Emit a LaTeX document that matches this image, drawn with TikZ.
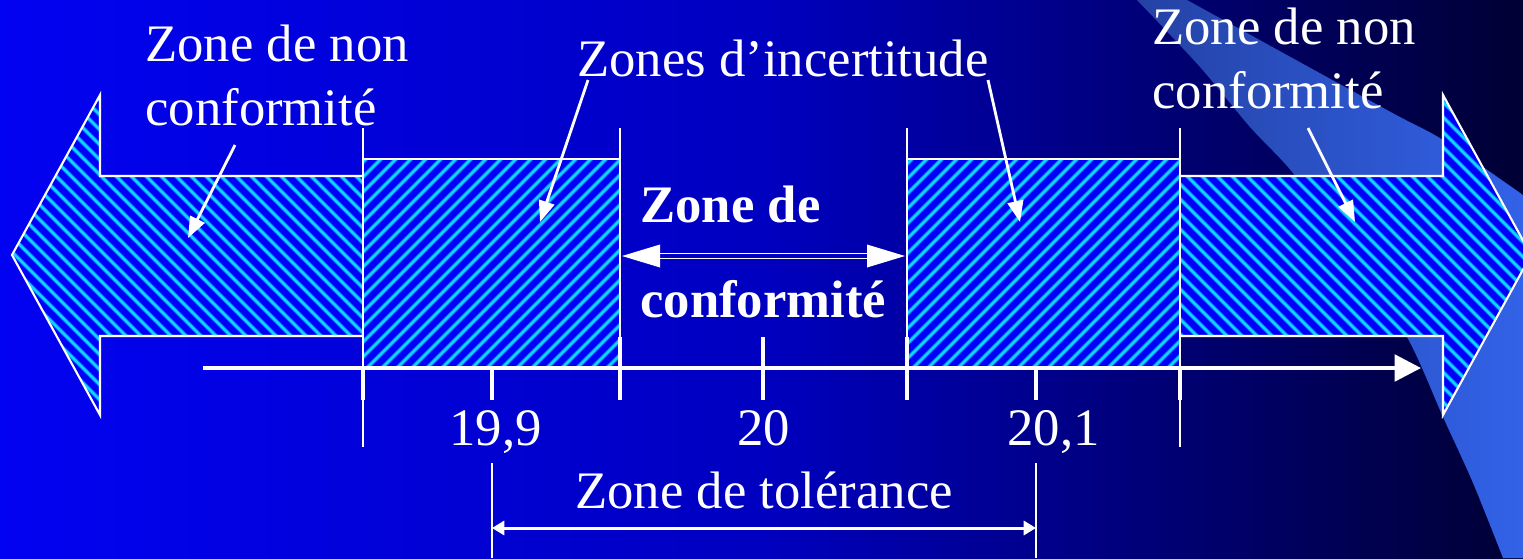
\documentclass[tikz,border=0pt]{standalone}
\usepackage{fontspec}
\setmainfont{Liberation Serif}
\usetikzlibrary{arrows.meta}
\definecolor{bgL}{RGB}{2,2,242}
\definecolor{bgM}{RGB}{0,0,192}
\definecolor{bgN}{RGB}{0,0,112}
\definecolor{bgR}{RGB}{0,0,52}
\definecolor{hatchbase}{RGB}{0,0,250}
\definecolor{hatchline}{RGB}{20,210,255}
\definecolor{hatchsoft}{RGB}{0,130,255}
\definecolor{swooshL}{RGB}{36,66,165}
\definecolor{swooshR}{RGB}{50,98,232}
\pgfdeclarehorizontalshading{bgshade}{100bp}{color(0bp)=(bgL); color(25bp)=(bgL); color(50bp)=(bgM); color(64bp)=(bgN); color(75bp)=(bgR); color(100bp)=(bgR)}
\tikzset{
  lbl/.style={text=white, inner sep=0pt, font=\fontsize{30}{36}\selectfont, align=left},
  blbl/.style={lbl, font=\fontsize{30}{36}\selectfont\bfseries},
  outline/.style={draw=white, line width=1.2pt, line join=miter},
  softstripe/.style={draw=hatchsoft, line width=2.3pt},
  corestripe/.style={draw=hatchline, line width=1.3pt},
  thinline/.style={draw=white, line width=1.15pt},
  tickmark/.style={draw=white, line width=2.8pt},
  axisline/.style={draw=white, line width=2.4pt},
  pointer/.style={draw=white, line width=1.6pt, -{Triangle[length=12pt,width=9pt]}},
  tolarrow/.style={draw=white, line width=1.7pt, {Triangle[length=7pt,width=8pt]}-{Triangle[length=7pt,width=8pt]}},
  dblshaft/.style={draw=white, line width=0.85pt, double=bgM, double distance=2pt},
}
\begin{document}
\begin{tikzpicture}[x=0.02cm, y=-0.02cm]
\useasboundingbox (0,0) rectangle (1523,558);
\clip (0,0) rectangle (1523,558);
% background
\shade[shading=bgshade] (0,0) rectangle (1523,558);
% swoosh band
\shade[left color=swooshL, right color=swooshR]
  plot[smooth] coordinates {(1137,0) (1200,67) (1250,127) (1293,173) (1350,250) (1407,337) (1443,417) (1473,483) (1503,558)}
  -- (1523,558) -- (1523,195)
  -- plot[smooth] coordinates {(1523,195) (1443,140) (1387,110) (1187,0)} -- cycle;
% left arrow (non conformity)
\begin{scope}
  \clip (363,176) -- (100,176) -- (100,95) -- (12,255) -- (100,415) -- (100,336) -- (363,336) -- cycle;
  \fill[hatchbase] (0,80) rectangle (370,430);
  \foreach \c in {-435,-420,...,290} {
    \draw[softstripe] (\c+80,80) -- (\c+430,430);
    \draw[corestripe] (\c+80,80) -- (\c+430,430);
  }
\end{scope}
% right arrow (non conformity)
\begin{scope}
  \clip (1180,176) -- (1443,176) -- (1443,95) -- (1531,255) -- (1443,415) -- (1443,336) -- (1180,336) -- cycle;
  \fill[hatchbase] (1170,80) rectangle (1540,430);
  \foreach \c in {756,771,...,1450} {
    \draw[softstripe] (\c+80,80) -- (\c+430,430);
    \draw[corestripe] (\c+80,80) -- (\c+430,430);
  }
\end{scope}
% left uncertainty rectangle
\begin{scope}
  \clip (363,159) rectangle (620,368);
  \fill[hatchbase] (360,150) rectangle (625,375);
  \foreach \c in {510,525,...,1000} {
    \draw[softstripe] (\c-150,150) -- (\c-380,380);
    \draw[corestripe] (\c-150,150) -- (\c-380,380);
  }
\end{scope}
% right uncertainty rectangle
\begin{scope}
  \clip (907,159) rectangle (1180,368);
  \fill[hatchbase] (900,150) rectangle (1185,375);
  \foreach \c in {1056,1071,...,1560} {
    \draw[softstripe] (\c-150,150) -- (\c-380,380);
    \draw[corestripe] (\c-150,150) -- (\c-380,380);
  }
\end{scope}
% outlines
\draw[outline] (363,176) -- (100,176) -- (100,95) -- (12,255) -- (100,415) -- (100,336) -- (363,336);
\draw[outline] (1180,176) -- (1443,176) -- (1443,95) -- (1531,255) -- (1443,415) -- (1443,336) -- (1180,336);
\draw[outline] (363,368) -- (363,159) -- (620,159) -- (620,368);
\draw[outline] (907,368) -- (907,159) -- (1180,159) -- (1180,368);
% limit lines
\coordinate (l1top) at (363,128); \coordinate (l1bot) at (363,447);
\coordinate (l2top) at (620,128); \coordinate (l2bot) at (620,337);
\coordinate (l3top) at (907,128); \coordinate (l3bot) at (907,337);
\coordinate (l4top) at (1180,128); \coordinate (l4bot) at (1180,447);
\draw[thinline] (l1top) -- (l1bot);
\draw[thinline] (l2top) -- (l2bot);
\draw[thinline] (l3top) -- (l3bot);
\draw[thinline] (l4top) -- (l4bot);
% axis
\coordinate (ax0) at (203,368);
\coordinate (ax1) at (1421,368);
\draw[axisline, -{Triangle[length=15pt,width=15pt]}] (ax0) -- (ax1);
% ticks
\foreach \x in {363,492,1036,1180} { \draw[tickmark] (\x,367) -- (\x,400); }
\foreach \x in {620,763,907} { \draw[tickmark] (\x,337) -- (\x,400); }
% conformity double arrow
\coordinate (cl) at (622,256);
\coordinate (cr) at (905,256);
\draw[dblshaft, shorten <=19pt, shorten >=19pt] (cl) -- (cr);
\fill[white] (cl) -- ++(38,-11.5) -- ++(0,23) -- cycle;
\fill[white] (cr) -- ++(-38,-11.5) -- ++(0,23) -- cycle;
% tolerance
\coordinate (tl0) at (492,463); \coordinate (tl1) at (492,558);
\coordinate (tr0) at (1036,463); \coordinate (tr1) at (1036,558);
\draw[thinline] (tl0) -- (tl1);
\draw[thinline] (tr0) -- (tr1);
\coordinate (tola) at (492,528);
\coordinate (tolb) at (1036,528);
\draw[tolarrow] (tola) -- (tolb);
% labels (base anchor = baseline of the last line)
\node[lbl, anchor=base west] (lnc) at (145,125) {Zone de non\\conformité};
\node[lbl, anchor=base west] (rnc) at (1152,108) {Zone de non\\conformité};
\node[lbl, anchor=base west] (zi) at (577,76) {Zones d’incertitude};
\node[blbl, anchor=base west] (zc) at (640,317) {Zone de\\[18pt]conformité};
\node[lbl, anchor=base west] (n1) at (449,445) {19,9};
\node[lbl, anchor=base west] (n2) at (737,445) {20};
\node[lbl, anchor=base west] (n3) at (1007,445) {20,1};
\node[lbl, anchor=base west] (zt) at (575,508) {Zone de tolérance};
% pointers
\coordinate (lp1) at (235,145); \coordinate (lp2) at (188,238);
\coordinate (zp1) at (588,80);  \coordinate (zp2) at (540,222);
\coordinate (zp3) at (988,80);  \coordinate (zp4) at (1020,222);
\coordinate (rp1) at (1308,128); \coordinate (rp2) at (1355,222);
\draw[pointer] (lp1) -- (lp2);
\draw[pointer] (zp1) -- (zp2);
\draw[pointer] (zp3) -- (zp4);
\draw[pointer] (rp1) -- (rp2);
\end{tikzpicture}
\end{document}
